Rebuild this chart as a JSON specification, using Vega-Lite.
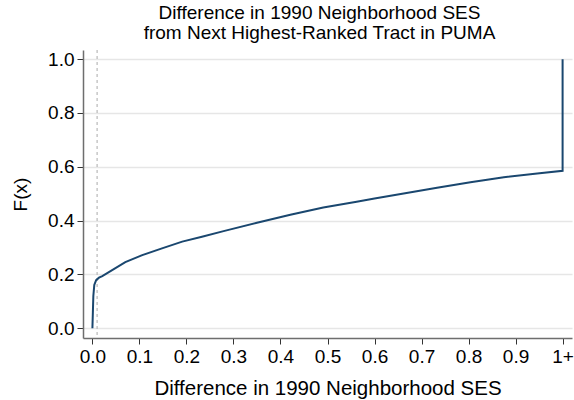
{
  "$schema": "https://vega.github.io/schema/vega-lite/v6.json",
  "width": 489,
  "height": 288,
  "autosize": {"type": "none"},
  "padding": {"left": 83, "top": 50, "right": 2, "bottom": 62},
  "background": "white",
  "title": {
    "text": ["Difference in 1990 Neighborhood SES", "from Next Highest-Ranked Tract in PUMA"],
    "font": "Liberation Sans",
    "fontSize": 19,
    "fontWeight": "normal",
    "color": "#000000",
    "lineHeight": 20,
    "anchor": "middle",
    "frame": "group",
    "dx": -8,
    "offset": 6
  },
  "config": {
    "view": {"stroke": null},
    "axis": {
      "labelFont": "Liberation Sans",
      "titleFont": "Liberation Sans",
      "labelColor": "#000000",
      "titleColor": "#000000",
      "titleFontWeight": "normal",
      "domainColor": "#6e6e6e",
      "domainWidth": 1.5,
      "tickColor": "#333333",
      "tickSize": 6,
      "gridColor": "#e6e6e6",
      "gridWidth": 1.3
    }
  },
  "layer": [
    {
      "data": {"values": [{"cut": 0.01}]},
      "mark": {"type": "rule", "color": "#b8b8b8", "strokeDash": [3, 3], "strokeWidth": 1.2},
      "encoding": {
        "x": {"field": "cut", "type": "quantitative", "scale": {"domain": [-0.02, 1.02]}}
      }
    },
    {
      "data": {
        "values": [
          {"step": 1, "diff": 0.0, "F": 0.0},
          {"step": 2, "diff": 0.001, "F": 0.06},
          {"step": 3, "diff": 0.002, "F": 0.12},
          {"step": 4, "diff": 0.004, "F": 0.161},
          {"step": 5, "diff": 0.008, "F": 0.179},
          {"step": 6, "diff": 0.014, "F": 0.188},
          {"step": 7, "diff": 0.021, "F": 0.194},
          {"step": 8, "diff": 0.042, "F": 0.216},
          {"step": 9, "diff": 0.07, "F": 0.246},
          {"step": 10, "diff": 0.106, "F": 0.272},
          {"step": 11, "diff": 0.148, "F": 0.297},
          {"step": 12, "diff": 0.191, "F": 0.322},
          {"step": 13, "diff": 0.233, "F": 0.34},
          {"step": 14, "diff": 0.279, "F": 0.361},
          {"step": 15, "diff": 0.35, "F": 0.392},
          {"step": 16, "diff": 0.421, "F": 0.422},
          {"step": 17, "diff": 0.491, "F": 0.449},
          {"step": 18, "diff": 0.562, "F": 0.47},
          {"step": 19, "diff": 0.6, "F": 0.482},
          {"step": 20, "diff": 0.662, "F": 0.501},
          {"step": 21, "diff": 0.733, "F": 0.522},
          {"step": 22, "diff": 0.804, "F": 0.543},
          {"step": 23, "diff": 0.875, "F": 0.561},
          {"step": 24, "diff": 0.946, "F": 0.575},
          {"step": 25, "diff": 1.0, "F": 0.585},
          {"step": 26, "diff": 1.0, "F": 1.0}
        ]
      },
      "mark": {"type": "line", "color": "#1a476f", "strokeWidth": 2},
      "encoding": {
        "x": {
          "field": "diff",
          "type": "quantitative",
          "scale": {"domain": [-0.02, 1.02], "nice": false, "zero": false},
          "axis": {
            "title": "Difference in 1990 Neighborhood SES",
            "values": [0, 0.1, 0.2, 0.3, 0.4, 0.5, 0.6, 0.7, 0.8, 0.9, 1],
            "labelExpr": "datum.value >= 1 ? '1+' : format(datum.value, '.1f')",
            "labelFontSize": 19,
            "titleFontSize": 20.5,
            "labelPadding": 3,
            "titlePadding": 12,
            "grid": false
          }
        },
        "y": {
          "field": "F",
          "type": "quantitative",
          "scale": {"domain": [-0.036, 1.034], "nice": false, "zero": false},
          "axis": {
            "title": "F(x)",
            "values": [0, 0.2, 0.4, 0.6, 0.8, 1],
            "format": ".1f",
            "labelFontSize": 19,
            "titleFontSize": 19,
            "labelPadding": 3,
            "titlePadding": 17,
            "grid": true
          }
        },
        "order": {"field": "step", "type": "quantitative"}
      }
    }
  ]
}
